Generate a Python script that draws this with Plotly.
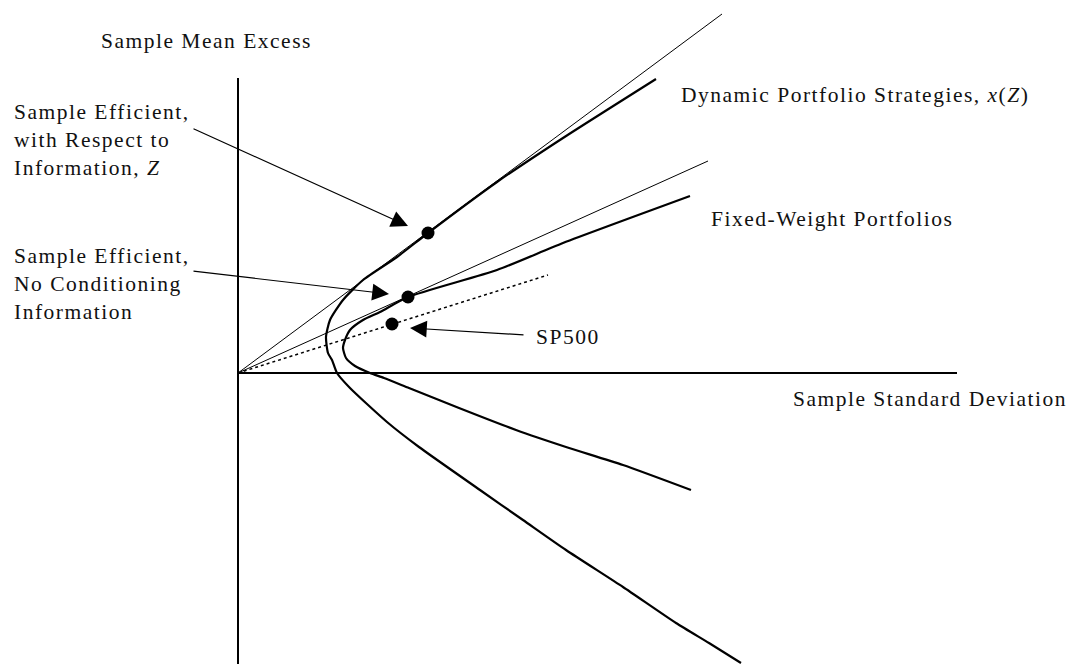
import plotly.graph_objects as go

# ---- data (x = sample standard deviation, y = sample mean excess; origin at axes crossing) ----
dyn_sd = [4.18, 3.25, 2.59, 1.90, 1.59, 1.25, 1.05, 0.92, 0.88, 0.90, 0.94, 0.99, 1.12,
          1.49, 1.81, 2.42, 2.85, 3.28, 3.85, 4.38, 4.71, 5.03]
dyn_mu = [2.94, 2.35, 1.91, 1.40, 1.16, 0.93, 0.73, 0.53, 0.36, 0.20, 0.13, 0.00, -0.15,
          -0.49, -0.74, -1.17, -1.47, -1.77, -2.14, -2.50, -2.70, -2.90]

fix_sd = [4.52, 3.25, 2.59, 1.70, 1.42, 1.25, 1.12, 1.07, 1.05, 1.08, 1.17, 1.32, 1.46,
          1.71, 2.21, 2.78, 3.28, 3.85, 4.53]
fix_mu = [1.77, 1.30, 1.03, 0.76, 0.61, 0.53, 0.43, 0.33, 0.25, 0.15, 0.07, 0.00, -0.05,
          -0.15, -0.35, -0.57, -0.74, -0.92, -1.17]

tan_dyn_sd = [0.0, 4.84]
tan_dyn_mu = [0.0, 3.59]
tan_fix_sd = [0.0, 4.70]
tan_fix_mu = [0.0, 2.12]
sp_line_sd = [0.0, 3.10]
sp_line_mu = [0.0, 0.98]

point_names = ["Sample Efficient, Z", "Sample Efficient, no info", "SP500"]
point_sd = [1.90, 1.70, 1.54]
point_mu = [1.40, 0.76, 0.49]

axis_v_sd = [0.0, 0.0]
axis_v_mu = [2.95, -2.95]
axis_h_sd = [0.0, 7.19]
axis_h_mu = [0.0, 0.0]

W, H = 1081, 664
X0, Y0, S = 238, 373, 100.0  # origin pixel and pixels per unit
xr = [-X0 / S, (W - X0) / S]
yr = [(Y0 - H) / S, Y0 / S]

FONT = dict(family="Liberation Serif, Times New Roman, serif", size=21.5, color="#111")

fig = go.Figure()

def line(x, y, width, dash="solid"):
    fig.add_trace(go.Scatter(x=x, y=y, mode="lines", hoverinfo="skip",
                             line=dict(color="black", width=width, dash=dash, shape="spline",
                                       smoothing=0.6)))

line(axis_v_sd, axis_v_mu, 2)
line(axis_h_sd, axis_h_mu, 2)
line(tan_dyn_sd, tan_dyn_mu, 1)
line(tan_fix_sd, tan_fix_mu, 1)
line(sp_line_sd, sp_line_mu, 1.5, "dot")
line(dyn_sd, dyn_mu, 2.2)
line(fix_sd, fix_mu, 2.2)

fig.add_trace(go.Scatter(x=point_sd, y=point_mu, mode="markers", hoverinfo="skip",
                         marker=dict(color="black", size=13)))

def px2d(px, py):
    return (px - X0) / S, (Y0 - py) / S

def label(text, px, py):
    x, y = px2d(px, py)
    fig.add_annotation(x=x, y=y, xref="x", yref="y", text=text, showarrow=False,
                       xanchor="left", yanchor="middle", align="left", font=FONT)

label("Sample Mean Excess", 99, 40.5)
label("Sample Efficient,<br>with Respect to<br>Information, <i>Z</i>", 12, 140)
label("Sample Efficient,<br>No Conditioning<br>Information", 12, 283.5)
label("Dynamic Portfolio Strategies, <i>x</i>(<i>Z</i>)", 679, 94.5)
label("Fixed-Weight Portfolios", 709, 219)
label("SP500", 534, 336.5)
label("Sample Standard Deviation", 791, 399)

def arrow(tail, tip):
    tx, ty = px2d(*tail)
    hx, hy = px2d(*tip)
    fig.add_annotation(x=hx, y=hy, ax=tx, ay=ty, xref="x", yref="y", axref="x", ayref="y",
                       text="", showarrow=True, arrowhead=2, arrowsize=2.8, arrowwidth=1.2,
                       arrowcolor="black", standoff=0)

arrow((192, 128), (408, 226))
arrow((192, 271), (389, 294))
arrow((525, 335), (410, 328))

fig.update_layout(width=W, height=H, margin=dict(l=0, r=0, t=0, b=0),
                  paper_bgcolor="white", plot_bgcolor="white", showlegend=False,
                  xaxis=dict(range=xr, visible=False, fixedrange=True),
                  yaxis=dict(range=yr, visible=False, fixedrange=True))

post = ("document.body.style.margin='0';"
        "document.querySelectorAll('.annotation-text').forEach(function(t){"
        "t.style.letterSpacing='1.5px';});")
fig.write_html("out.html", post_script=post, config={"displayModeBar": False})
